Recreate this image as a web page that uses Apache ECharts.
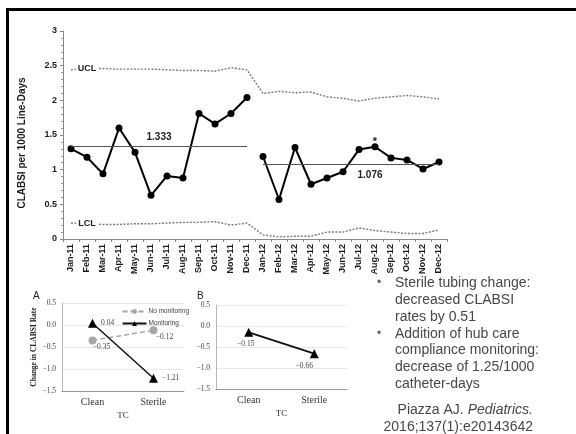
<!DOCTYPE html>
<html>
<head>
<meta charset="utf-8">
<script src="https://cdn.jsdelivr.net/npm/echarts@6/dist/echarts.min.js"></script>
<style>
  html, body { margin: 0; padding: 0; background: #fff; }
  #chart { width: 576px; height: 434px; }
</style>
</head>
<body>
<div id="chart"></div>
<script>
// ---- Monthly CLABSI control chart ----
const months = ['Jan-11','Feb-11','Mar-11','Apr-11','May-11','Jun-11','Jul-11','Aug-11','Sep-11','Oct-11','Nov-11','Dec-11',
                'Jan-12','Feb-12','Mar-12','Apr-12','May-12','Jun-12','Jul-12','Aug-12','Sep-12','Oct-12','Nov-12','Dec-12'];
const rate2011 = [1.30, 1.18, 0.94, 1.60, 1.25, 0.63, 0.91, 0.88, 1.81, 1.66, 1.81, 2.04];
const rate2012 = [1.19, 0.57, 1.32, 0.79, 0.88, 0.97, 1.29, 1.33, 1.17, 1.14, 1.01, 1.11];
const ucl = [2.44, 2.46, 2.46, 2.45, 2.45, 2.45, 2.44, 2.43, 2.43, 2.42, 2.47, 2.44,
             2.10, 2.13, 2.11, 2.12, 2.05, 2.03, 1.99, 2.03, 2.05, 2.07, 2.05, 2.02];
const lcl = [0.23, 0.22, 0.21, 0.21, 0.22, 0.22, 0.23, 0.24, 0.24, 0.25, 0.20, 0.23,
             0.06, 0.03, 0.04, 0.04, 0.10, 0.10, 0.16, 0.12, 0.10, 0.08, 0.08, 0.13];
const center2011 = 1.333;
const center2012 = 1.076;
const flaggedMonth = 'Aug-12';
const yTicksMain = [0, 0.5, 1, 1.5, 2, 2.5, 3];

// ---- Tubing change (TC) panels ----
const tcCategories = ['Clean', 'Sterile'];
const aNoMonitoring = [-0.35, -0.12];
const aMonitoring = [0.04, -1.21];
const bMonitoring = [-0.15, -0.66];
const yTicksPanel = [-1.5, -1.0, -0.5, 0.0, 0.5];

// ---- Side notes ----
const notes = [
  { bullet: true,  text: 'Sterile tubing change:' },
  { bullet: false, text: 'decreased CLABSI' },
  { bullet: false, text: 'rates by 0.51' },
  { bullet: true,  text: 'Addition of hub care' },
  { bullet: false, text: 'compliance monitoring:' },
  { bullet: false, text: 'decrease of 1.25/1000' },
  { bullet: false, text: 'catheter-days' }
];

const SANS = '"Liberation Sans", Arial, sans-serif';
const SERIF = '"Liberation Serif", "Times New Roman", serif';
const pad = n => Array(n).fill(null);
const signed = v => (v < 0 ? '\u2212' + Math.abs(v).toFixed(2) : v.toFixed(2));
const panelTick = v => (v < 0 ? '\u2212' + Math.abs(v).toFixed(1) : v.toFixed(1));

const chart = echarts.init(document.getElementById('chart'), null, { renderer: 'canvas' });

const limitLine = { color: '#7a7a7a', width: 1.4, type: [2, 1.5] };
const limitTag = (txt) => ({
  show: true, formatter: txt, position: 'inside',
  fontFamily: SANS, fontWeight: 'bold', fontSize: 9, color: '#222',
  backgroundColor: '#fff', padding: [1, 2]
});

const panelYAxis = (gridIndex, withName) => ({
  gridIndex, type: 'value', min: yTicksPanel[0], max: yTicksPanel[yTicksPanel.length - 1], interval: 0.5,
  axisLine: { show: true, lineStyle: { color: '#b5b5b5', width: 1 } },
  axisTick: { show: false },
  splitLine: { show: true, lineStyle: { color: '#e8e8e8', width: 1 } },
  axisLabel: { fontFamily: SERIF, fontSize: 7.5, color: '#444', margin: 6, formatter: panelTick },
  name: withName ? 'Change in CLABSI Rate' : '',
  nameLocation: 'middle', nameGap: 21, nameRotate: 90,
  nameTextStyle: { fontFamily: SERIF, fontWeight: 'bold', fontSize: 7.5, color: '#222' }
});
const panelXAxis = (gridIndex) => ({
  gridIndex, type: 'category', data: tcCategories, boundaryGap: true,
  axisLine: { show: true, onZero: false, lineStyle: { color: '#9a9a9a', width: 1 } },
  axisTick: { show: false },
  axisLabel: { fontFamily: SERIF, fontSize: 10, color: '#333', margin: 6 },
  name: 'TC', nameLocation: 'middle', nameGap: 20,
  nameTextStyle: { fontFamily: SERIF, fontSize: 9, color: '#333' }
});

const option = {
  animation: false,
  backgroundColor: '#fff',
  grid: [
    { left: 63, top: 31, width: 384, height: 208 },
    { left: 62, top: 303, width: 122, height: 88 },
    { left: 216, top: 305, width: 131, height: 84 }
  ],
  legend: {
    data: [
      { name: 'No monitoring' },
      { name: 'Monitoring' }
    ],
    orient: 'vertical', right: 382, top: 303, align: 'left',
    itemWidth: 24, itemHeight: 6, itemGap: 5,
    textStyle: { fontFamily: SANS, fontSize: 6.5, color: '#444', padding: [0, 0, 0, -3] }
  },
  xAxis: [
    {
      gridIndex: 0, type: 'category', data: months, boundaryGap: true,
      axisLine: { show: true, lineStyle: { color: '#888', width: 1 } },
      axisTick: { show: true, length: 3, lineStyle: { color: '#888' } },
      axisLabel: { rotate: 90, interval: 0, margin: 5, fontFamily: SANS, fontWeight: 'bold', fontSize: 9, color: '#1a1a1a' }
    },
    panelXAxis(1),
    panelXAxis(2)
  ],
  yAxis: [
    {
      gridIndex: 0, type: 'value', min: yTicksMain[0], max: yTicksMain[yTicksMain.length - 1], interval: 0.5,
      axisLine: { show: true, lineStyle: { color: '#888', width: 1 } },
      axisTick: { show: true, length: 3, lineStyle: { color: '#888' } },
      minorTick: { show: true, splitNumber: 5, length: 2, lineStyle: { color: '#999' } },
      splitLine: { show: false },
      axisLabel: { fontFamily: SANS, fontWeight: 'bold', fontSize: 9, color: '#1a1a1a', margin: 6,
                   formatter: v => String(v) },
      name: 'CLABSI per 1000 Line-Days', nameLocation: 'middle', nameGap: 36, nameRotate: 90,
      nameTextStyle: { fontFamily: SANS, fontWeight: 'bold', fontSize: 10, color: '#1a1a1a', padding: [0, 16, 0, 0] }
    },
    panelYAxis(1, true),
    panelYAxis(2, false)
  ],
  series: [
    {
      name: 'UCL', type: 'line', xAxisIndex: 0, yAxisIndex: 0,
      data: ucl, symbol: 'none', lineStyle: limitLine, silent: true, z: 2,
      markPoint: {
        symbol: 'rect', symbolSize: 1, itemStyle: { color: 'rgba(0,0,0,0)' },
        data: [{ coord: [months[1], ucl[1]] }],
        label: limitTag('UCL')
      }
    },
    {
      name: 'LCL', type: 'line', xAxisIndex: 0, yAxisIndex: 0,
      data: lcl, symbol: 'none', lineStyle: limitLine, silent: true, z: 2,
      markPoint: {
        symbol: 'rect', symbolSize: 1, itemStyle: { color: 'rgba(0,0,0,0)' },
        data: [{ coord: [months[1], lcl[1]] }],
        label: limitTag('LCL')
      }
    },
    {
      name: 'Rate 2011', type: 'line', xAxisIndex: 0, yAxisIndex: 0,
      data: rate2011.concat(pad(12)),
      symbol: 'circle', symbolSize: 7, z: 4,
      itemStyle: { color: '#000' }, lineStyle: { color: '#000', width: 2 },
      markLine: {
        silent: true, symbol: 'none',
        lineStyle: { color: '#555', width: 1.2, type: 'solid' },
        label: { show: true, position: 'middle', distance: 4, formatter: center2011.toFixed(3),
                 fontFamily: SANS, fontWeight: 'bold', fontSize: 10, color: '#222' },
        data: [[{ coord: [months[0], center2011] }, { coord: [months[11], center2011] }]]
      }
    },
    {
      name: 'Rate 2012', type: 'line', xAxisIndex: 0, yAxisIndex: 0,
      data: pad(12).concat(rate2012.map((v, i) => months[12 + i] === flaggedMonth
        ? { value: v, label: { show: true, position: 'top', distance: 0, offset: [0, 4], formatter: '*', fontFamily: SANS, fontWeight: 'bold', fontSize: 11, color: '#222' } }
        : v)),
      symbol: 'circle', symbolSize: 7, z: 4,
      itemStyle: { color: '#000' }, lineStyle: { color: '#000', width: 2 },
      markLine: {
        silent: true, symbol: 'none',
        lineStyle: { color: '#555', width: 1.2, type: 'solid' },
        label: { show: false },
        data: [[{ coord: [months[12], center2012] }, { coord: [months[23], center2012] }]]
      },
      markPoint: {
        symbol: 'rect', symbolSize: 1, itemStyle: { color: 'rgba(0,0,0,0)' },
        data: [{ coord: [flaggedMonth, center2012] }],
        label: { show: true, position: 'inside', offset: [-5, 11], formatter: center2012.toFixed(3),
                 fontFamily: SANS, fontWeight: 'bold', fontSize: 10, color: '#222' }
      }
    },
    // Panel A
    {
      name: 'No monitoring', type: 'line', xAxisIndex: 1, yAxisIndex: 1,
      data: aNoMonitoring.map((v, i) => ({ value: v, label: { offset: i === 0 ? [9, -6] : [11, -6] } })),
      symbol: 'circle', symbolSize: 8, z: 3,
      itemStyle: { color: '#a6a6a6' }, lineStyle: { color: '#a6a6a6', width: 1.5, type: [5, 3] },
      label: { show: true, position: 'bottom', formatter: p => signed(p.value),
               fontFamily: SERIF, fontSize: 7.5, color: '#444' },
      emphasis: { disabled: true }
    },
    {
      name: 'Monitoring', type: 'line', xAxisIndex: 1, yAxisIndex: 1,
      data: aMonitoring, symbol: 'triangle', symbolSize: 9, z: 4,
      itemStyle: { color: '#000' }, lineStyle: { color: '#111', width: 1.5 },
      label: { show: true, position: 'right', distance: 4, formatter: p => signed(p.value),
               fontFamily: SERIF, fontSize: 7.5, color: '#444' },
      emphasis: { disabled: true }
    },
    // Panel B
    {
      name: 'Monitoring (B)', type: 'line', xAxisIndex: 2, yAxisIndex: 2,
      data: bMonitoring.map((v, i) => ({ value: v, label: { offset: i === 0 ? [-3, -2] : [-10, -1] } })),
      symbol: 'triangle', symbolSize: 9, z: 4,
      itemStyle: { color: '#000' }, lineStyle: { color: '#111', width: 1.8 },
      label: { show: true, position: 'bottom', distance: 5, formatter: p => signed(p.value),
               fontFamily: SERIF, fontSize: 7.5, color: '#444' },
      emphasis: { disabled: true }
    }
  ],
  graphic: []
};

// Frame, panel letters and side notes
const g = option.graphic;
g.push({ type: 'rect', shape: { x: 6, y: 8, width: 570, height: 3 }, style: { fill: '#000' }, silent: true });
g.push({ type: 'rect', shape: { x: 6, y: 8, width: 3, height: 426 }, style: { fill: '#000' }, silent: true });
g.push({ type: 'text', style: { x: 33, y: 296, text: 'A', font: '10px ' + SANS, fill: '#222', verticalAlign: 'middle' } });
g.push({ type: 'text', style: { x: 197, y: 296, text: 'B', font: '10px ' + SANS, fill: '#222', verticalAlign: 'middle' } });

const noteTop = 283, noteStep = 16.9;
notes.forEach((n, i) => {
  const y = noteTop + i * noteStep;
  if (n.bullet) {
    g.push({ type: 'text', style: { x: 377, y: y, text: '\u2022', font: '12px ' + SANS, fill: '#666', verticalAlign: 'middle' } });
  }
  g.push({ type: 'text', style: { x: 395, y: y, text: n.text, font: '14px ' + SANS, fill: '#474747', verticalAlign: 'middle' } });
});
g.push({ type: 'text', style: {
  x: 533, y: 410, textAlign: 'right', verticalAlign: 'middle',
  text: '{n|Piazza AJ. }{i|Pediatrics.}',
  rich: {
    n: { fontFamily: SANS, fontSize: 14, fill: '#474747', color: '#474747' },
    i: { fontFamily: SANS, fontSize: 14, fontStyle: 'italic', fill: '#474747', color: '#474747' }
  }
} });
g.push({ type: 'text', style: { x: 533, y: 427, textAlign: 'right', text: '2016;137(1):e20143642', font: '14px ' + SANS, fill: '#474747', verticalAlign: 'middle' } });

chart.setOption(option);
</script>
</body>
</html>
